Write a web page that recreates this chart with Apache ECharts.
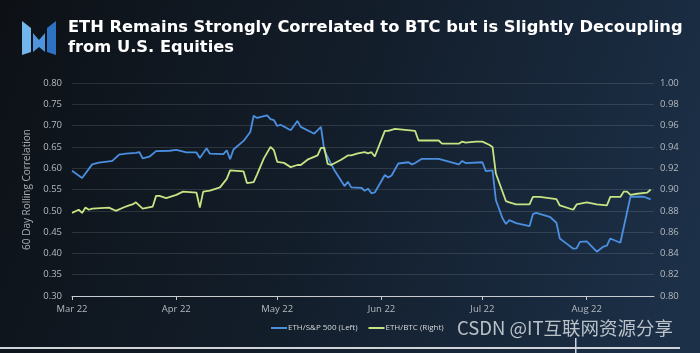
<!DOCTYPE html>
<html style="height: 100%">
<head>
    <meta charset="utf-8">
    <title>ETH correlation</title>
    <script src="https://cdn.jsdelivr.net/npm/echarts@6/dist/echarts.min.js"></script>
</head>
<body style="height: 100%; margin: 0">
<div id="container" style="width: 700px; height: 353px"></div>
<script type="text/javascript">
    // month ticks on the x axis
    var tickDates = ['2022-03-01', '2022-04-01', '2022-05-01', '2022-06-01', '2022-07-01', '2022-08-01'];
    var tickLabels = ['Mar 22', 'Apr 22', 'May 22', 'Jun 22', 'Jul 22', 'Aug 22'];

    // ETH / S&P 500, left axis
    var spDates = ['2022-03-01', '2022-03-04', '2022-03-07', '2022-03-09', '2022-03-12', '2022-03-13', '2022-03-15',
        '2022-03-17', '2022-03-20', '2022-03-21', '2022-03-22', '2022-03-24', '2022-03-26', '2022-03-30', '2022-04-01',
        '2022-04-04', '2022-04-07', '2022-04-08', '2022-04-10', '2022-04-11', '2022-04-15', '2022-04-16', '2022-04-17',
        '2022-04-18', '2022-04-21', '2022-04-23', '2022-04-24', '2022-04-25', '2022-04-28', '2022-04-29', '2022-04-30',
        '2022-05-01', '2022-05-02', '2022-05-05', '2022-05-07', '2022-05-08', '2022-05-12', '2022-05-14', '2022-05-15',
        '2022-05-18', '2022-05-21', '2022-05-22', '2022-05-23', '2022-05-26', '2022-05-27', '2022-05-28', '2022-05-29',
        '2022-05-30', '2022-06-02', '2022-06-03', '2022-06-04', '2022-06-06', '2022-06-09', '2022-06-10', '2022-06-11',
        '2022-06-13', '2022-06-18', '2022-06-24', '2022-06-25', '2022-06-26', '2022-07-01', '2022-07-02', '2022-07-04',
        '2022-07-05', '2022-07-07', '2022-07-08', '2022-07-09', '2022-07-11', '2022-07-15', '2022-07-16', '2022-07-17',
        '2022-07-21', '2022-07-23', '2022-07-24', '2022-07-26', '2022-07-28', '2022-07-29', '2022-07-30', '2022-08-01',
        '2022-08-04', '2022-08-06', '2022-08-07', '2022-08-08', '2022-08-11', '2022-08-14', '2022-08-18', '2022-08-20'];
    var spValues = [0.594, 0.577, 0.609, 0.613, 0.616, 0.617, 0.632,
        0.634, 0.636, 0.638, 0.623, 0.627, 0.640, 0.641, 0.643,
        0.637, 0.637, 0.624, 0.647, 0.634, 0.633, 0.642, 0.621,
        0.644, 0.664, 0.685, 0.723, 0.718, 0.724, 0.715, 0.713,
        0.699, 0.702, 0.689, 0.711, 0.697, 0.681, 0.697, 0.642,
        0.595, 0.558, 0.568, 0.555, 0.554, 0.547, 0.552, 0.541,
        0.543, 0.584, 0.578, 0.583, 0.611, 0.614, 0.609, 0.612,
        0.622, 0.622, 0.609, 0.617, 0.612, 0.614, 0.593, 0.595,
        0.525, 0.482, 0.469, 0.478, 0.471, 0.464, 0.492, 0.495,
        0.486, 0.472, 0.435, 0.423, 0.411, 0.412, 0.427, 0.428,
        0.404, 0.416, 0.418, 0.435, 0.425, 0.533, 0.533, 0.527];

    // ETH / BTC, right axis
    var btcDates = ['2022-03-01', '2022-03-03', '2022-03-04', '2022-03-05', '2022-03-06', '2022-03-07', '2022-03-12',
        '2022-03-14', '2022-03-17', '2022-03-18', '2022-03-19', '2022-03-20', '2022-03-22', '2022-03-25', '2022-03-26',
        '2022-03-27', '2022-03-29', '2022-04-01', '2022-04-03', '2022-04-07', '2022-04-08', '2022-04-09', '2022-04-11',
        '2022-04-14', '2022-04-16', '2022-04-17', '2022-04-21', '2022-04-22', '2022-04-24', '2022-04-25', '2022-04-27',
        '2022-04-29', '2022-04-30', '2022-05-01', '2022-05-03', '2022-05-05', '2022-05-07', '2022-05-08', '2022-05-10',
        '2022-05-13', '2022-05-14', '2022-05-15', '2022-05-16', '2022-05-17', '2022-05-20', '2022-05-22', '2022-05-23',
        '2022-05-25', '2022-05-27', '2022-05-28', '2022-05-29', '2022-05-30', '2022-06-02', '2022-06-03', '2022-06-05',
        '2022-06-11', '2022-06-12', '2022-06-18', '2022-06-19', '2022-06-24', '2022-06-25', '2022-06-26', '2022-06-29',
        '2022-07-01', '2022-07-03', '2022-07-04', '2022-07-05', '2022-07-08', '2022-07-09', '2022-07-11', '2022-07-15',
        '2022-07-16', '2022-07-18', '2022-07-23', '2022-07-24', '2022-07-28', '2022-07-29', '2022-08-01', '2022-08-04',
        '2022-08-07', '2022-08-08', '2022-08-11', '2022-08-12', '2022-08-13', '2022-08-14', '2022-08-16', '2022-08-19',
        '2022-08-20'];
    var btcValues = [0.878, 0.881, 0.878, 0.883, 0.881, 0.882, 0.883,
        0.880, 0.884, 0.885, 0.886, 0.888, 0.882, 0.884, 0.894,
        0.894, 0.892, 0.895, 0.898, 0.897, 0.883, 0.898, 0.899,
        0.902, 0.910, 0.918, 0.917, 0.906, 0.907, 0.914, 0.929,
        0.940, 0.937, 0.926, 0.925, 0.921, 0.923, 0.923, 0.928,
        0.932, 0.939, 0.939, 0.924, 0.923, 0.928, 0.932, 0.932,
        0.934, 0.935, 0.934, 0.935, 0.931, 0.955, 0.955, 0.957,
        0.955, 0.946, 0.946, 0.943, 0.943, 0.945, 0.944, 0.945,
        0.945, 0.942, 0.940, 0.915, 0.889, 0.888, 0.886, 0.886,
        0.893, 0.893, 0.891, 0.885, 0.881, 0.886, 0.888, 0.886,
        0.885, 0.893, 0.893, 0.898, 0.898, 0.895, 0.896, 0.897,
        0.900];

    function toTime(d) {
        return +echarts.time.parse(d);
    }
    function pairs(dates, values) {
        return dates.map(function (d, i) { return [toTime(d), values[i]]; });
    }

    var tickTimes = tickDates.map(toTime);

    var chart = echarts.init(document.getElementById('container'));
    var axisText = { color: '#b4b9bf', fontSize: 9.5, fontFamily: 'Open Sans' };

    chart.setOption({
        animation: false,
        backgroundColor: {
            type: 'linear', x: 0, y: 0, x2: 1, y2: 0.7,
            colorStops: [
                { offset: 0, color: '#0d1116' },
                { offset: 0.5, color: '#131e2b' },
                { offset: 1, color: '#1c3048' }
            ]
        },
        title: {
            text: 'ETH Remains Strongly Correlated to BTC but is Slightly Decoupling\nfrom U.S. Equities',
            left: 63,
            top: 13,
            textStyle: {
                color: '#ffffff',
                fontFamily: 'DejaVu Sans',
                fontWeight: 'bold',
                fontSize: 16.3,
                lineHeight: 20
            }
        },
        grid: { left: 72, right: 46, top: 83, bottom: 57 },
        legend: {
            top: 319,
            left: 266,
            itemWidth: 16,
            itemHeight: 2,
            itemGap: 11,
            icon: 'rect',
            textStyle: { color: '#d4d8dc', fontSize: 8, fontFamily: 'Open Sans', padding: [0, 0, 0, -4] },
            data: ['ETH/S&P 500 (Left)', 'ETH/BTC (Right)']
        },
        xAxis: {
            type: 'value',
            min: toTime('2022-03-01'),
            max: toTime('2022-08-21'),
            axisLine: { lineStyle: { color: '#c8ccd0', width: 1 } },
            axisTick: { show: true, length: 4, lineStyle: { color: '#c8ccd0' }, customValues: tickTimes },
            splitLine: { show: false },
            axisLabel: Object.assign({
                customValues: tickTimes,
                margin: 8,
                formatter: function (v) {
                    var i = tickTimes.indexOf(v);
                    return i >= 0 ? tickLabels[i] : '';
                }
            }, axisText)
        },
        yAxis: [
            {
                type: 'value',
                min: 0.30,
                max: 0.80,
                interval: 0.05,
                name: '60 Day Rolling Correlation',
                nameLocation: 'middle',
                nameGap: 33,
                nameTextStyle: { color: '#a9aeb4', fontSize: 10, fontFamily: 'Open Sans' },
                axisLine: { show: false },
                axisTick: { show: false },
                splitLine: { lineStyle: { color: 'rgba(255,255,255,0.12)', width: 1 } },
                axisLabel: Object.assign({
                    margin: 10,
                    formatter: function (v) { return v.toFixed(2); }
                }, axisText)
            },
            {
                type: 'value',
                min: 0.80,
                max: 1.00,
                interval: 0.02,
                axisLine: { show: false },
                axisTick: { show: false },
                splitLine: { show: false },
                axisLabel: Object.assign({
                    margin: 6,
                    formatter: function (v) { return v.toFixed(2); }
                }, axisText)
            }
        ],
        series: [
            {
                name: 'ETH/S&P 500 (Left)',
                type: 'line',
                yAxisIndex: 0,
                showSymbol: false,
                color: '#4b8fe0',
                lineStyle: { width: 1.8 },
                data: pairs(spDates, spValues)
            },
            {
                name: 'ETH/BTC (Right)',
                type: 'line',
                yAxisIndex: 1,
                showSymbol: false,
                color: '#c6e483',
                lineStyle: { width: 1.8 },
                data: pairs(btcDates, btcValues)
            }
        ],
        graphic: [
            // logo
            { type: 'polygon', shape: { points: [[22, 21], [31, 28], [31, 52], [22, 55]] }, style: { fill: '#72b6ec' } },
            { type: 'polygon', shape: { points: [[33, 33], [39, 40], [45, 33], [45, 52], [39, 47], [33, 52]] }, style: { fill: '#4f94dc' } },
            { type: 'polygon', shape: { points: [[47, 28], [56, 21], [56, 55], [47, 52]] }, style: { fill: '#2f72c4' } },
            // watermark and frame marks
            {
                type: 'text', left: 457, top: 319,
                style: { text: 'CSDN @IT互联网资源分享', fill: 'rgba(215,220,225,0.85)', fontSize: 18.5, fontFamily: 'Noto Sans CJK SC' }
            },
            { type: 'rect', shape: { x: 0, y: 347, width: 680, height: 2 }, style: { fill: '#d0d4d8' } },
            { type: 'rect', shape: { x: 575, y: 338, width: 1.5, height: 15 }, style: { fill: '#d0d4d8' } }
        ]
    });
</script>
</body>
</html>
